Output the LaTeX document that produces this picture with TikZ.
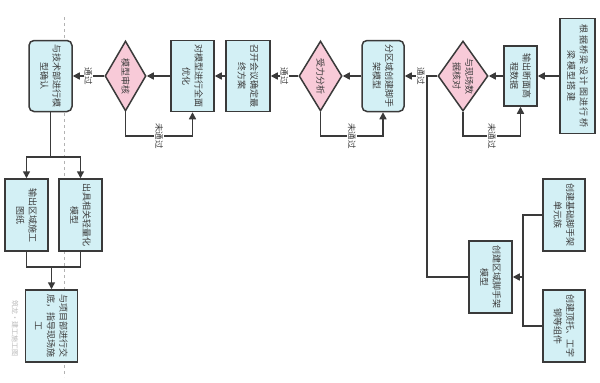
\documentclass[tikz,border=0pt]{standalone}
\usepackage{fontspec}
\newfontfamily\cjk{Noto Sans CJK SC}
\newfontfamily\cjkwide[LetterSpace=15]{Noto Sans CJK SC}
\usetikzlibrary{shapes.geometric,arrows.meta}
\definecolor{boxfill}{HTML}{D3F0F5}
\definecolor{dfill}{HTML}{F8CAD8}
\definecolor{edge}{HTML}{3A3A3A}
\definecolor{txtc}{HTML}{3C3C3C}
\tikzset{
  bx/.style={draw=edge, line width=1.5pt, fill=boxfill, inner sep=0pt},
  rbx/.style={bx, rounded corners=5pt},
  dm/.style={draw=edge, line width=1.5pt, fill=dfill, shape=diamond, inner sep=0pt},
  tx/.style={rotate=-90, align=center, text=txtc, font=\cjk\fontsize{9}{12.5}\selectfont, inner sep=0pt},
  lbl/.style={rotate=-90, fill=white, text=txtc, font=\cjk\fontsize{8.5}{10}\selectfont, inner sep=1pt},
  ln/.style={draw=edge, line width=1.5pt},
  arr/.style={ln, -{Triangle[length=7pt,width=7pt]}},
}
\begin{document}
\begin{tikzpicture}[x=1pt,y=-1pt]
\useasboundingbox (0,0) rectangle (600,383);
\fill[white] (0,0) rectangle (600,383);
% dashed guide
\coordinate (dg1) at (64,17);
\coordinate (dg2) at (64,377);
\draw[gray!60, dashed, line width=0.5pt] (dg1) -- (dg2);

% main row
\node[bx, minimum width=35, minimum height=115] (A) at (577.5,76) {};
\node[tx, font=\cjkwide\fontsize{9}{12.5}\selectfont] (tA) at (A) {根据桥梁设计图进行桥\\梁模型搭建};
\node[bx, minimum width=33, minimum height=60] (B) at (520.5,76) {};
\node[tx] (tB) at (B) {输出断面高\\程数据};
\node[dm, minimum width=50, minimum height=70] (D1) at (463,76) {};
\node[tx] (tD1) at (D1) {与现场数\\据核对};
\node[rbx, minimum width=42, minimum height=71] (C) at (383,76) {};
\node[tx] (tC) at (C) {分区域创建脚手\\架模型};
\node[dm, minimum width=43, minimum height=70] (D2) at (320.5,76) {};
\node[tx] (tD2) at (D2) {受力分析};
\node[bx, minimum width=44, minimum height=71] (E) at (248,76) {};
\node[tx] (tE) at (E) {召开会议确定最\\终方案};
\node[bx, minimum width=43, minimum height=71] (F) at (192.5,76) {};
\node[tx] (tF) at (F) {对模型进行全面\\优化};
\node[dm, minimum width=41, minimum height=70] (D3) at (125.5,76) {};
\node[tx] (tD3) at (D3) {模型审核};
\node[rbx, minimum width=43, minimum height=71] (G) at (50.5,76) {};
\node[tx] (tG) at (G) {与技术部进行模\\型确认};

% lower left
\node[bx, minimum width=43, minimum height=72] (H1) at (26.5,215) {};
\node[tx] (tH1) at (H1) {输出区域施工\\图纸};
\node[bx, minimum width=43, minimum height=72] (H2) at (80.5,215) {};
\node[tx] (tH2) at (H2) {出具相关轻量化\\模型};
\node[bx, minimum width=52, minimum height=72] (I) at (51.5,326) {};
\node[tx] (tI) at (I) {与项目部进行交\\底，指导现场施\\工};

% lower right
\node[bx, minimum width=43, minimum height=72] (J) at (490.5,277) {};
\node[tx] (tJ) at (J) {创建区域脚手架\\模型};
\node[bx, minimum width=42, minimum height=72] (K1) at (564,215) {};
\node[tx] (tK1) at (K1) {创建基础脚手架\\单元族};
\node[bx, minimum width=42, minimum height=72] (K2) at (564,326) {};
\node[tx] (tK2) at (K2) {创建顶托、工字\\钢等组件};

% watermark
\node[rotate=-90, text=gray!55, font=\cjk\fontsize{7}{8}\selectfont, inner sep=0pt] (wm) at (15,328) {筑龙·建工施工图};

% connectors main row
\draw[arr] (A) -- (B);
\draw[arr] (B) -- (D1);
\draw[arr] (D1) -- node[lbl] (l1) {通过} (C);
\draw[arr] (D1.south) -- ++(0,24) -| node[pos=.25,lbl] (l2) {未通过} (B.south);
\draw[arr] (C) -- (D2);
\draw[arr] (D2) -- node[lbl] (l3) {通过} (E);
\draw[arr] (D2.south) -- ++(0,24) -| node[pos=.25,lbl] (l4) {未通过} (C.south);
\draw[arr] (E) -- (F);
\draw[arr] (F) -- (D3);
\draw[arr] (D3) -- node[lbl] (l5) {通过} (G);
\draw[arr] (D3.south) -- ++(0,24) -| node[pos=.25,lbl] (l6) {未通过} (F.south);

% left branch
\coordinate (g1) at (50.5,157);
\draw[ln] (G.south) -- (g1);
\draw[arr] (g1) -| (H1.north);
\draw[arr] (g1) -| (H2.north);
\coordinate (h1) at (51.5,267);
\draw[ln] (H1.south) |- (h1);
\draw[ln] (H2.south) |- (h1);
\draw[arr] (h1) -- (I.north);

% right branch
\coordinate (k) at (523,277);
\draw[ln] (K1.west) -| (k);
\draw[ln] (K2.west) -| (k);
\draw[arr] (k) -- (J.east);
\coordinate (jn) at (427,76);
\draw[ln] (J.west) -| (jn);
\end{tikzpicture}
\end{document}
